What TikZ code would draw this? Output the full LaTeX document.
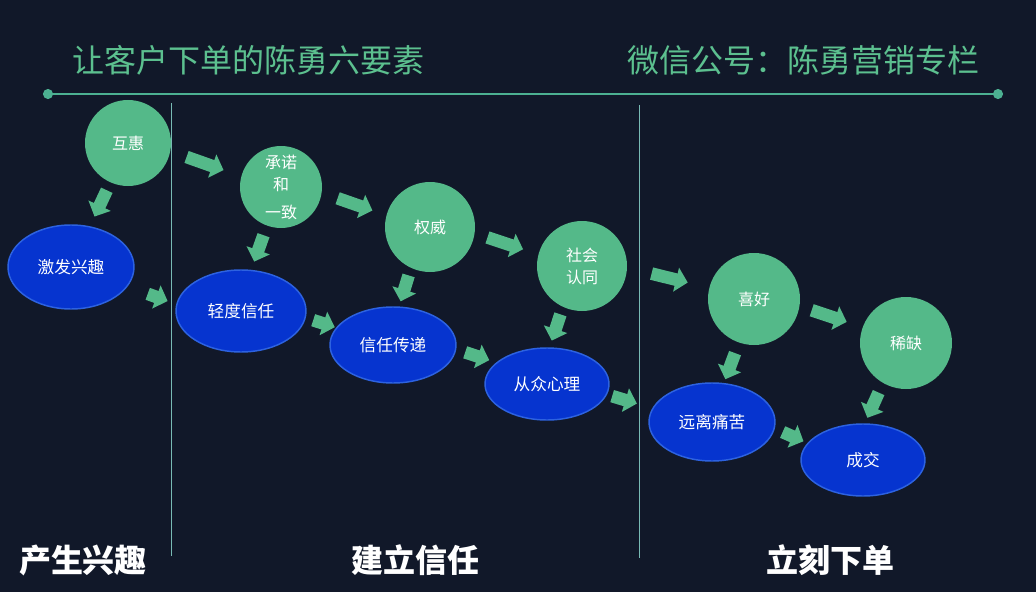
\documentclass[tikz,border=0pt]{standalone}
\usepackage{fontspec}
\newfontfamily\cjk{Noto Sans CJK SC}
\usepackage{xcolor}
\usepackage{tikz}
\usetikzlibrary{shapes,arrows.meta,positioning,calc}

\definecolor{bgnavy}{RGB}{17,24,41}
\definecolor{leafgreen}{RGB}{84,185,137}
\definecolor{titlegreen}{RGB}{92,192,143}
\definecolor{ruleteal}{RGB}{76,176,145}
\definecolor{cutgrey}{RGB}{120,186,180}
\definecolor{deepblue}{RGB}{6,52,207}
\definecolor{rimblue}{RGB}{45,98,224}

\tikzset{
    factor/.style={circle, fill=leafgreen, inner sep=0pt, text=white, align=center, font=\cjk\fontsize{12}{16.5}\selectfont},
    stage/.style={ellipse, draw=rimblue, line width=1.1pt, fill=deepblue, inner sep=0pt, text=white, font=\cjk\fontsize{12.5}{15}\selectfont},
    push/.style={leafgreen, line width=9.5pt, -{Triangle[length=9pt,width=18pt]}},
    phase/.style={text=white, font=\cjk\bfseries\fontsize{24}{28}\selectfont}
}

\begin{document}
\begin{tikzpicture}[x=0.75pt, y=-0.75pt]
    \useasboundingbox (0,0) rectangle (1036,592);
    \fill[bgnavy] (0,0) rectangle (1036,592);
    % header
    \node[anchor=west, inner sep=0pt, text=titlegreen, font=\cjk\fontsize{24}{28}\selectfont] (title) at (72,60) {让客户下单的陈勇六要素};
    \node[anchor=east, inner sep=0pt, text=titlegreen, font=\cjk\fontsize{24}{28}\selectfont] (account) at (980,60) {微信公号：陈勇营销专栏};
    \coordinate (ruleL) at (48,94);
    \coordinate (ruleR) at (998,94);
    \draw[ruleteal, line width=1.2pt] (ruleL) -- (ruleR);
    \fill[ruleteal] (ruleL) circle (3.8pt) (ruleR) circle (3.8pt);
    % dividers
    \coordinate (cutA) at (171,103);
    \coordinate (cutB) at (639,105);
    \draw[cutgrey, line width=0.7pt] (cutA) -- ++(0,453);
    \draw[cutgrey, line width=0.7pt] (cutB) -- ++(0,453);
    % six factors
    \node[factor, minimum size=64.5pt] (huhui) at (128,143) {互惠};
    \node[factor, minimum size=61.5pt] (chengnuo) at (281,187) {承诺\\和\\[4.5pt]一致};
    \node[factor, minimum size=67.5pt] (quanwei) at (430,227) {权威};
    \node[factor, minimum size=67.5pt] (shehui) at (582,266) {社会\\认同};
    \node[factor, minimum size=69pt] (xihao) at (754,299) {喜好};
    \node[factor, minimum size=69pt] (xique) at (906,343) {稀缺};
    % stages
    \node[stage, minimum width=94.5pt, minimum height=63pt] (jifa) at (71,267) {激发兴趣};
    \node[stage, minimum width=97.5pt, minimum height=61.5pt] (qingdu) at (241,311) {轻度信任};
    \node[stage, minimum width=94.5pt, minimum height=57pt] (chuandi) at (393,345) {信任传递};
    \node[stage, minimum width=93pt, minimum height=54pt] (congzhong) at (547,384) {从众心理};
    \node[stage, minimum width=94.5pt, minimum height=58.5pt] (yuanli) at (712,422) {远离痛苦};
    \node[stage, minimum width=93pt, minimum height=54pt] (chengjiao) at (863,460) {成交};
    % arrows
    \draw[push, shorten <=6.4pt, shorten >=8pt] (huhui.246) -- (jifa.65);
    \draw[push, shorten <=16pt, shorten >=6.8pt] (jifa.-19) -- (qingdu.174);
    \draw[push, shorten <=12.8pt, shorten >=14pt] (huhui.-11) -- (chengnuo.165);
    \draw[push, shorten <=7.5pt, shorten >=6.5pt] (chengnuo.250) -- (qingdu.76);
    \draw[push, shorten <=12.5pt, shorten >=11pt] (chengnuo.-8) -- (quanwei.165);
    \draw[push, shorten <=5.8pt, shorten >=1pt] (qingdu.-6) -- (chuandi.163);
    \draw[push, shorten <=5.8pt, shorten >=4pt] (quanwei.245) -- (chuandi.81);
    \draw[push, shorten <=10pt, shorten >=12pt] (quanwei.-8) -- (shehui.165);
    \draw[push, shorten <=7pt, shorten >=5.5pt] (chuandi.-4) -- (congzhong.157);
    \draw[push, shorten <=5.8pt, shorten >=5.3pt] (shehui.245) -- (congzhong.86);
    \draw[push, shorten <=18.8pt, shorten >=16.5pt] (shehui.-2) -- (xihao.166);
    \draw[push, shorten <=4pt, shorten >=12pt] (congzhong.-10) -- (yuanli.167);
    \draw[push, shorten <=8.3pt, shorten >=3pt] (xihao.251) -- (yuanli.73);
    \draw[push, shorten <=9.5pt, shorten >=12.5pt] (xihao.-9) -- (xique.160);
    \draw[push, shorten <=7.8pt, shorten >=4.5pt] (xique.240) -- (chengjiao.87);
    \draw[push, shorten <=6.4pt, shorten >=3.2pt] (yuanli.-6) -- (chengjiao.163);
    % phases
    \node[phase] (xingqu) at (83,560) {产生兴趣};
    \node[phase] (xinren) at (415,560) {建立信任};
    \node[phase] (xiadan) at (830,560) {立刻下单};
\end{tikzpicture}
\end{document}
